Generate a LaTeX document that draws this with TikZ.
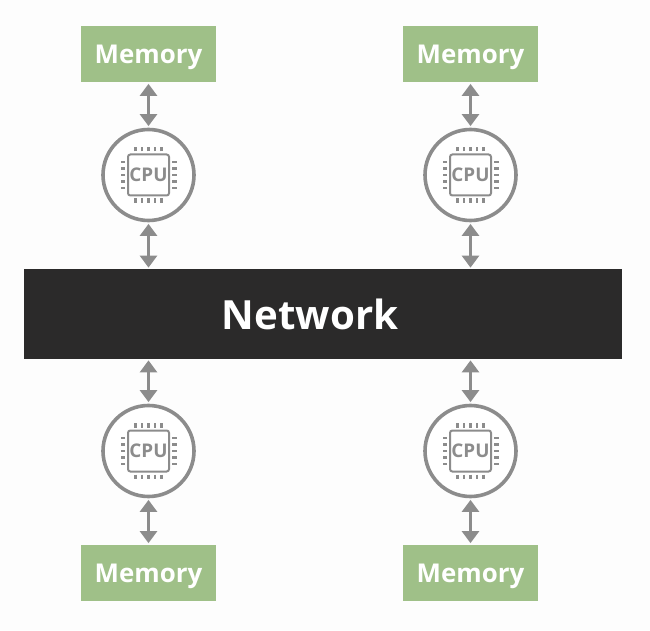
\documentclass[tikz,border=0pt]{standalone}
\usepackage{fontspec}
\setsansfont{Open Sans}
\usepackage{tikz}
\usetikzlibrary{positioning,arrows.meta,calc}
\definecolor{ink}     {HTML}{2B2A2A}
\definecolor{moss}    {HTML}{9FC088}
\definecolor{softink} {HTML}{8C8C8C}
\definecolor{paper}   {HTML}{FDFDFD}
\tikzset{
  % --- nodes
  mem/.style  = {fill=moss, minimum width=33.75mm, minimum height=14mm, inner sep=0pt, text depth=0pt,
                 font=\fontsize{18.4}{20}\selectfont\sffamily\bfseries, text=white},
  cpu/.style  = {circle, draw=softink, fill=white, line width=0.9mm, minimum size=22.75mm,
                 inner sep=0pt},
  netw/.style = {fill=ink, minimum width=149.5mm, minimum height=22.25mm, inner sep=0pt,
                 font=\fontsize{28.6}{32}\selectfont\sffamily\bfseries, text=white},
  chip/.style = {draw=softink, rounded corners=0.6mm, line width=0.5mm, minimum size=10.25mm,
                 inner sep=0pt, font=\fontsize{13.4}{15}\selectfont\sffamily\bfseries, text=softink},
  pin/.style  = {draw=softink, line width=0.55mm},
  % --- edges
  e/.style    = {{Triangle[width=4.25mm,length=3mm]}-{Triangle[width=4.25mm,length=3mm]},
                 draw=softink, line width=0.7mm, shorten >=0.4mm, shorten <=0.4mm},
}
\begin{document}
\begin{tikzpicture}[x=0.25mm,y=0.25mm]
  \fill[paper] (0,0) rectangle (650,630);
  \useasboundingbox (0,0) rectangle (650,630);

  \node[netw] (network) at (323,316) {Network\kern6.5mm};

  \foreach \name/\x/\ymem/\ycpu/\side in {tl/148.5/576/455/north,tr/470.5/576/455/north,
                                          bl/148.5/57/179/south,br/470.5/57/179/south} {
    \node[mem] (mem\name) at (\x,\ymem) {Memory};
    \node[cpu] (cpu\name) at (\x,\ycpu) {};
    \node[chip] (chip\name) at (\x,\ycpu) {CPU};
    \foreach \d in {-13,-6.5,0,6.5,13} {
      \draw[pin] ($(chip\name.north)+(\d,2)$) -- ++(0,4.5);
      \draw[pin] ($(chip\name.south)+(\d,-2)$) -- ++(0,-4.5);
      \draw[pin] ($(chip\name.west)+(-2,\d)$) -- ++(-4.5,0);
      \draw[pin] ($(chip\name.east)+(2,\d)$) -- ++(4.5,0);
    }
    \coordinate (port\name) at (network.\side -| cpu\name);
    \draw[e] (mem\name) -- (cpu\name);
    \draw[e] (cpu\name) -- (port\name);
  }
\end{tikzpicture}
\end{document}
